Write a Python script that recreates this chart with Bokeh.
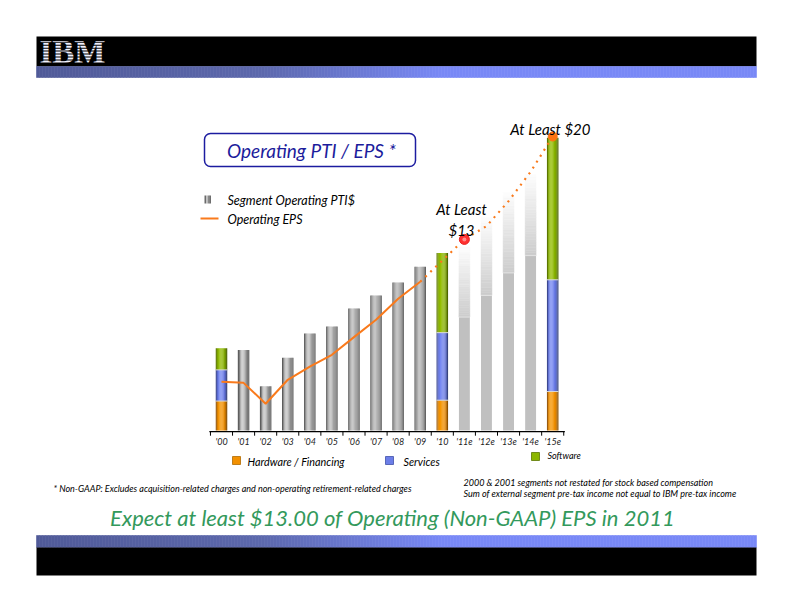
from bokeh.plotting import figure
from bokeh.models import Range1d, ColumnDataSource, BoxAnnotation
from bokeh.transform import dodge
from bokeh.core.properties import value
from bokeh.embed import file_html
from bokeh.resources import INLINE

# ---------------- data ----------------
years = ["'00", "'01", "'02", "'03", "'04", "'05", "'06", "'07",
         "'08", "'09", "'10", "'11e", "'12e", "'13e", "'14e", "'15e"]

# Segment operating PTI ($B), single grey bars
seg_years = ["'01", "'02", "'03", "'04", "'05", "'06", "'07", "'08", "'09"]
seg_pti = [9.3, 5.1, 8.4, 11.2, 12.0, 14.1, 15.6, 17.1, 18.9]

# Stacked segment bars ($B)
stack_years = ["'00", "'10", "'15e"]
hw_fin = [3.4, 3.5, 4.5]
services = [3.6, 7.8, 12.9]
software = [2.5, 9.2, 16.4]

# Projected (faded) bars ($B)
proj_years = ["'11e", "'12e", "'13e", "'14e"]
proj_base = [13.1, 15.6, 18.2, 20.2]
proj_top = [21.2, 24.6, 27.5, 29.6]

# Operating EPS ($)
eps_years = ["'00", "'01", "'02", "'03", "'04", "'05", "'06", "'07", "'08", "'09"]
eps = [3.31, 3.24, 1.82, 3.45, 4.35, 5.15, 6.35, 7.53, 8.96, 10.12]
eps_path_years = ["'09", "'10", "'11e", "'12e", "'13e", "'14e", "'15e"]
eps_path = [10.12, 11.56, 13.0, 13.9, 15.6, 17.6, 20.0]
eps_marks_years = ["'11e", "'15e"]
eps_marks = [13.0, 20.0]

# ---------------- layout constants (page pixels) ----------------
W, H = 776, 596
X0, DX = 221.0, 22.08           # centre of first category, category pitch
Y0, KP, KE = 430.0, 8.66, 14.7  # baseline, px per $B, px per $
BAR_W = 0.52
FONT = value("Lato")

pos = {y: i for i, y in enumerate(years)}

p = figure(width=W, height=H, x_range=Range1d(0, W), y_range=Range1d(H, 0),
           output_backend="svg", toolbar_location=None, min_border=0,
           x_axis_location=None, y_axis_location=None, outline_line_color=None,
           background_fill_color="white", border_fill_color="white")
p.grid.visible = False
p.extra_x_ranges = {"cat": Range1d((0 - X0) / DX, (W - X0) / DX)}
p.extra_y_ranges = {"pti": Range1d((Y0 - H) / KP, Y0 / KP),
                    "eps": Range1d((Y0 - H) / KE, Y0 / KE)}
CAT = dict(x_range_name="cat", y_range_name="pti")


def lerp(c1, c2, t):
    return "#%02x%02x%02x" % tuple(int(round(a + (b - a) * t)) for a, b in zip(c1, c2))


# ---------------- header / footer bands ----------------
def band(y_top, y_bot):
    xs, cols = [], []
    for x in range(36, 756, 3):
        if x < 260:
            t = (x - 36) / 224.0
            base = lerp((80, 90, 152), (92, 104, 172), t)
        elif x < 440:
            t = (x - 260) / 180.0
            base = lerp((92, 104, 172), (120, 136, 246), t)
        else:
            base = "#7888f6"
        xs.append(x)
        cols.append(base)
    p.quad(left=xs, right=[min(x + 3, 756) for x in xs], top=y_top, bottom=y_bot,
           fill_color=cols, line_color=cols, line_width=0.6)


p.quad(left=36, right=756, top=36, bottom=66, fill_color="black", line_color=None)
band(66, 77)
band(535, 547)
p.quad(left=36, right=756, top=547, bottom=575, fill_color="black", line_color=None)

# IBM logo (striped)
p.text(x=[39], y=[51], text=["IBM"], text_font=value("Liberation Serif"), text_font_style="bold",
       text_font_size="33px", text_color="#f2f2ff", text_baseline="middle", text_align="left")
for k in range(9):
    yy = 38.3 + k * 2.95
    p.quad(left=37, right=108, top=yy, bottom=yy + 1.0, fill_color="black", line_color=None)

# ---------------- title box ----------------
p.add_layout(BoxAnnotation(left=204, right=415, top=133, bottom=166, border_radius=6,
                           fill_color="white", fill_alpha=1, line_color="#1c1ca0",
                           line_width=1.5, line_alpha=1, level="underlay"))
p.text(x=[311], y=[150], text=["Operating PTI / EPS *"], text_font=FONT,
       text_font_style="italic", text_font_size="19px", text_color="#1c1c9c",
       text_align="center", text_baseline="middle")

# ---------------- bars ----------------
grey_prof = ["#5c5c5c", "#808080", "#a8a8a8", "#c2c2c2", "#c4c4c4", "#b6b6b6",
             "#a2a2a2", "#8e8e8e", "#7a7a7a", "#626262"]
orange_prof = ["#9a5a10", "#d88200", "#f29000", "#f69600", "#f49400", "#f29000",
               "#ee8e00", "#e08400", "#c07000", "#8a5000"]
blue_prof = ["#3c4890", "#5a6ad0", "#6c7ee8", "#7688f2", "#7486f0", "#7082ec",
             "#6a7ce6", "#6070d8", "#5060b8", "#38447e"]
green_prof = ["#5c7600", "#7ea400", "#8cb600", "#94be00", "#92bc00", "#8cb600",
              "#88b200", "#7ea600", "#6c9000", "#4e6600"]


def shaded(xcats, bottoms, tops, prof):
    src = ColumnDataSource(dict(x=[pos[c] for c in xcats], bottom=bottoms, top=tops))
    n = len(prof)
    sw = BAR_W / n
    for k, col in enumerate(prof):
        off = -BAR_W / 2 + sw * (k + 0.5)
        p.vbar(x=dodge("x", off), width=sw * 1.05, bottom="bottom", top="top", source=src,
               fill_color=col, line_color=None, **CAT)


shaded(seg_years, [0] * len(seg_pti), seg_pti, grey_prof)
b1 = hw_fin
b2 = [a + b for a, b in zip(hw_fin, services)]
b3 = [a + b for a, b in zip(b2, software)]
shaded(stack_years, [0] * 3, b1, orange_prof)
shaded(stack_years, b1, b2, blue_prof)
shaded(stack_years, b2, b3, green_prof)
# light seams between segments
sx = [pos[c] for c in stack_years]
for lev in (b1, b2):
    p.segment(x0=[x - BAR_W / 2 for x in sx], x1=[x + BAR_W / 2 for x in sx], y0=lev, y1=lev,
              line_color="#d8d8d8", line_width=1, **CAT)

# projected faded bars
px = [pos[c] for c in proj_years]
p.vbar(x=px, width=BAR_W * 0.95, bottom=0, top=proj_base, fill_color="#c0c0c0",
       line_color=None, **CAT)
NS = 30
for k in range(NS):
    t0, t1 = k / NS, (k + 1) / NS
    bots = [b + (t - b) * t0 for b, t in zip(proj_base, proj_top)]
    tps = [b + (t - b) * t1 for b, t in zip(proj_base, proj_top)]
    col = lerp((204, 204, 204), (253, 253, 253), (k + 0.5) / NS)
    p.vbar(x=px, width=BAR_W * 0.95, bottom=bots, top=tps, fill_color=col,
           line_color=col, line_width=0.5, **CAT)
p.segment(x0=[x - BAR_W * 0.475 for x in px], x1=[x + BAR_W * 0.475 for x in px],
          y0=proj_base, y1=proj_base, line_color="#e2e2e2", line_width=1, **CAT)

# ---------------- x axis (drawn at baseline) ----------------
n = len(years)
p.segment(x0=[-0.55], x1=[n - 0.45], y0=[-0.12], y1=[-0.12], line_color="black",
          line_width=1.2, **CAT)
ticks = [i - 0.5 for i in range(n + 1)]
p.segment(x0=ticks, x1=ticks, y0=[-0.12] * len(ticks), y1=[-0.6] * len(ticks),
          line_color="black", line_width=1, **CAT)
p.text(x=list(range(n)), y=[-1.3] * n, text=years, text_font=FONT, text_font_style="italic",
       text_font_size="9px", text_color="#222222", text_align="center",
       text_baseline="middle", **CAT)

# ---------------- EPS line ----------------
EPS = dict(x_range_name="cat", y_range_name="eps")
p.line(x=[pos[c] for c in eps_years], y=eps, line_color="#f97a1c", line_width=2, **EPS)
p.line(x=[pos[c] for c in eps_path_years], y=eps_path, line_color="#f97a1c", line_width=2.2,
       line_dash="2 5", **EPS)
mx = [pos[c] for c in eps_marks_years]
p.scatter(x=mx[:1], y=eps_marks[:1], size=10, fill_color="#ff3030", line_color="#e82020", **EPS)
p.scatter(x=mx[:1], y=eps_marks[:1], size=4, fill_color="#ff8a8a", line_color=None, **EPS)
p.scatter(x=mx[1:], y=eps_marks[1:], size=9, fill_color="#ff7410", line_color="#ff7410", **EPS)


# ---------------- annotations ----------------
def txt(x, y, s, size, color="black", align="left", style="italic"):
    p.text(x=[x], y=[y], text=[s], text_font=FONT, text_font_style=style,
           text_font_size=size, text_color=color, text_align=align, text_baseline="middle")


txt(590, 128, "At Least $20", "15px", align="right")
txt(461, 208, "At Least", "15px", align="center")
txt(461, 229, "$13", "15px", align="center")

# upper legend
for k, col in enumerate(["#6a6a6a", "#bdbdbd", "#8a8a8a", "#5e5e5e"]):
    p.quad(left=204 + k * 1.6, right=205.6 + k * 1.6, top=195, bottom=203,
           fill_color=col, line_color=None)
txt(227, 200, "Segment Operating PTI$", "12.5px")
p.line(x=[200, 218], y=[218, 218], line_color="#f97a1c", line_width=2)
txt(227, 219, "Operating EPS", "12.5px")

# lower legend
p.quad(left=232, right=240, top=456, bottom=464, fill_color="#f29000", line_color="#b06a00",
       line_width=0.8)
txt(247, 461, "Hardware / Financing", "10.8px")
p.quad(left=385, right=393, top=456, bottom=464, fill_color="#6c7ee8", line_color="#4050a8",
       line_width=0.8)
txt(403, 461, "Services", "10.8px")
p.quad(left=531, right=539, top=452, bottom=460, fill_color="#8cb600", line_color="#5c7600",
       line_width=0.8)
txt(547, 455, "Software", "9px")

# footnotes
txt(53, 488, "* Non-GAAP:  Excludes acquisition-related charges and non-operating retirement-related charges", "9px")
txt(463, 482, "2000 & 2001 segments not restated for stock based compensation", "9px")
txt(463, 493, "Sum of external segment pre-tax income not equal to IBM pre-tax income", "9px")

txt(392, 517, "Expect at least $13.00 of Operating (Non-GAAP) EPS in 2011", "22px",
    color="#33995c", align="center")

open("out.html", "w").write(file_html(p, INLINE))
